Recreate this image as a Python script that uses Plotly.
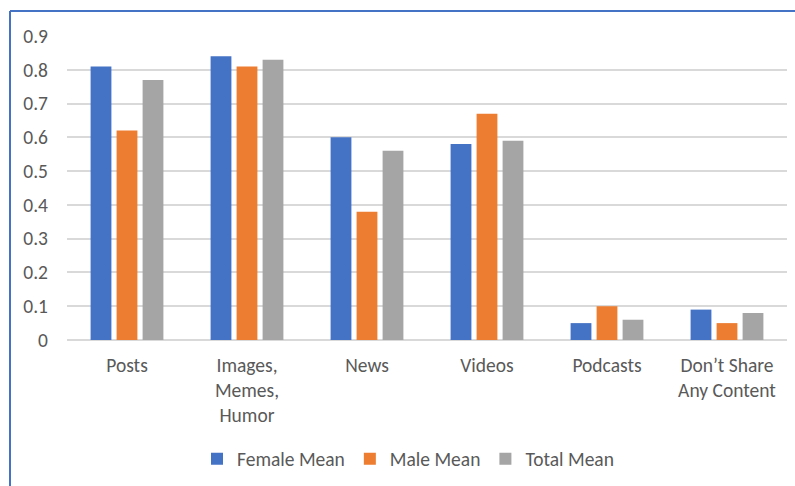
import plotly.graph_objects as go

# Content-sharing means by gender
categories = ["Posts", "Images,<br>Memes,<br>Humor", "News", "Videos", "Podcasts",
              "Don\u2019t Share<br>Any Content"]
female_mean = [0.81, 0.84, 0.60, 0.58, 0.05, 0.09]
male_mean = [0.62, 0.81, 0.38, 0.67, 0.10, 0.05]
total_mean = [0.77, 0.83, 0.56, 0.59, 0.06, 0.08]
y_ticks = [0, 0.1, 0.2, 0.3, 0.4, 0.5, 0.6, 0.7, 0.8, 0.9]
y_tick_text = ["0", "0.1", "0.2", "0.3", "0.4", "0.5", "0.6", "0.7", "0.8", "0.9"]

W, H = 795, 486
L, R, T, B = 67, 8, 36, 146  # plot-area margins in px
TEXT = "#595959"
GRID = "#D9D9D9"
FONT = "Carlito, Lato, sans-serif"
FS = 19.5

fig = go.Figure()
for name, vals, color in [("Female Mean", female_mean, "#4472C4"),
                          ("Male Mean", male_mean, "#ED7D31"),
                          ("Total Mean", total_mean, "#A5A5A5")]:
    fig.add_trace(go.Bar(name=name, x=categories, y=vals, marker_color=color,
                         marker_line_width=0))

pw = W - L - R
ph = H - T - B


def px_x(px):
    return (px - L) / pw


def px_y(py):
    return (H - B - py) / ph


border = dict(color="#4472C4", width=2)
fig.add_shape(type="line", xref="paper", yref="paper",
              x0=px_x(10), x1=px_x(10), y0=px_y(11), y1=px_y(500), line=border)
fig.add_shape(type="line", xref="paper", yref="paper",
              x0=px_x(10), x1=px_x(810), y0=px_y(11), y1=px_y(11), line=border)

fig.update_layout(
    width=W, height=H,
    margin=dict(l=L, r=R, t=T, b=B),
    paper_bgcolor="white", plot_bgcolor="white",
    font=dict(family=FONT, size=FS, color=TEXT),
    barmode="group", bargap=0.35, bargroupgap=0.2,
    legend=dict(orientation="h", x=px_x(197), xanchor="left",
                y=px_y(459), yanchor="middle",
                font=dict(size=FS, color=TEXT), itemclick=False),
    showlegend=True,
)
fig.update_xaxes(showgrid=False, showline=False, ticks="",
                 ticklabelstandoff=11, tickfont=dict(size=FS, color=TEXT))
fig.update_yaxes(range=[0, 0.9], tickvals=y_ticks, ticktext=y_tick_text,
                 showgrid=True, gridcolor=GRID, gridwidth=1.5,
                 zeroline=True, zerolinecolor=GRID, zerolinewidth=1.5,
                 showline=False, ticks="", ticklabelstandoff=18,
                 tickfont=dict(size=FS, color=TEXT))

fig.write_html("out.html")
